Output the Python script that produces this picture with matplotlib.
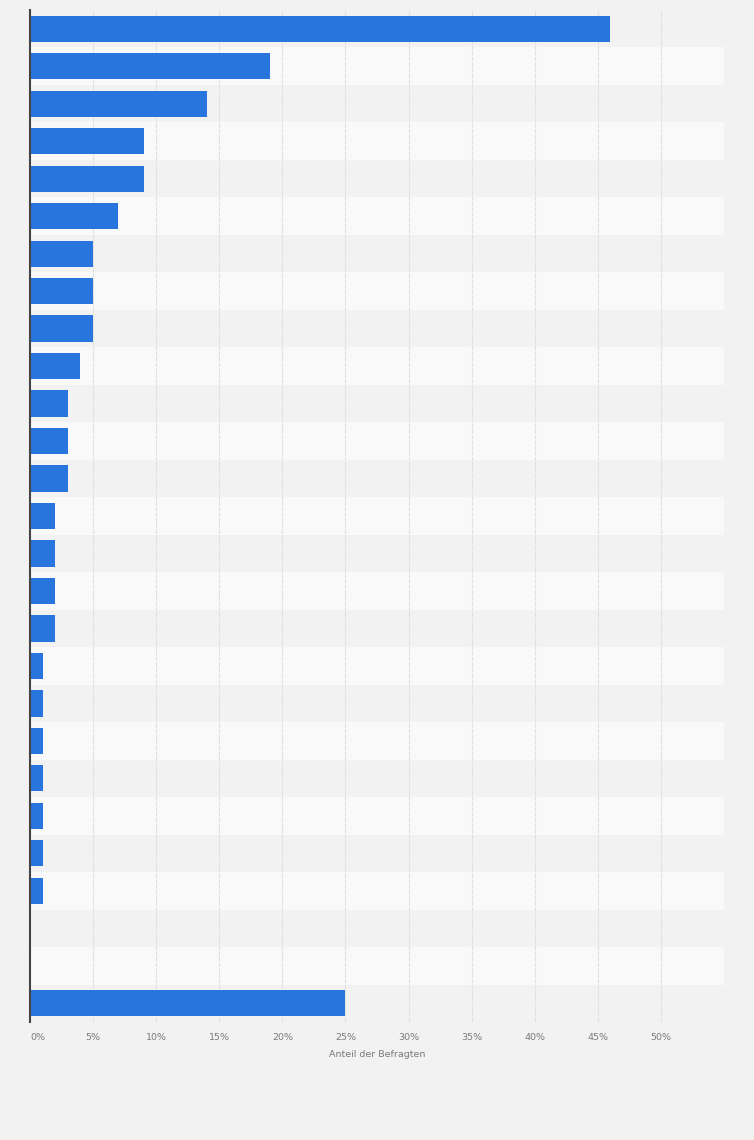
import numpy as np
import matplotlib
matplotlib.use("Agg")
import matplotlib.pyplot as plt

# share of respondents in percent, top to bottom (category labels are not shown)
values = [46, 19, 14, 9, 9, 7, 5, 5, 5, 4, 3, 3, 3, 2, 2, 2, 2,
          1, 1, 1, 1, 1, 1, 1, 0, 0, 25]
xticks = [0, 5, 10, 15, 20, 25, 30, 35, 40, 45, 50]
xlabel = "Anteil der Befragten"

bg = "#f2f2f2"
band_light = "#f9f9f9"
bar_color = "#2876dd"

fig = plt.figure(figsize=(7.54, 11.40), dpi=100, facecolor=bg)
ax = fig.add_axes([30 / 754, 118 / 1140, 694 / 754, 1012 / 1140])
ax.set_facecolor(bg)

n = len(values)
y = np.arange(n)

# alternating row bands
for i in range(n):
    if i % 2 == 1:
        ax.axhspan(i - 0.5, i + 0.5, color=band_light, zorder=0, lw=0)

for xt in xticks[1:] + [55]:
    ax.axvline(xt, color="#e0e0e0", lw=0.8, ls=(0, (4, 1)), zorder=1)

ax.barh(y, values, height=0.7, color=bar_color, zorder=2)

ax.set_xlim(0, 55)
ax.set_ylim(n - 0.5, -0.5)
ax.set_yticks([])
ax.set_xticks(xticks)
ax.set_xticklabels([f"{t}%" for t in xticks], fontsize=6.8, color="#7a7a7a")
ax.get_xticklabels()[0].set_horizontalalignment("left")
ax.tick_params(axis="x", length=0, pad=8)
ax.set_xlabel(xlabel, fontsize=6.8, color="#7a7a7a", labelpad=6)

for s in ["top", "right", "bottom"]:
    ax.spines[s].set_visible(False)
ax.spines["left"].set_color("#444444")
ax.spines["left"].set_linewidth(1.5)
ax.spines["left"].set_zorder(3)

fig.savefig("out.png", dpi=100, facecolor=bg)
